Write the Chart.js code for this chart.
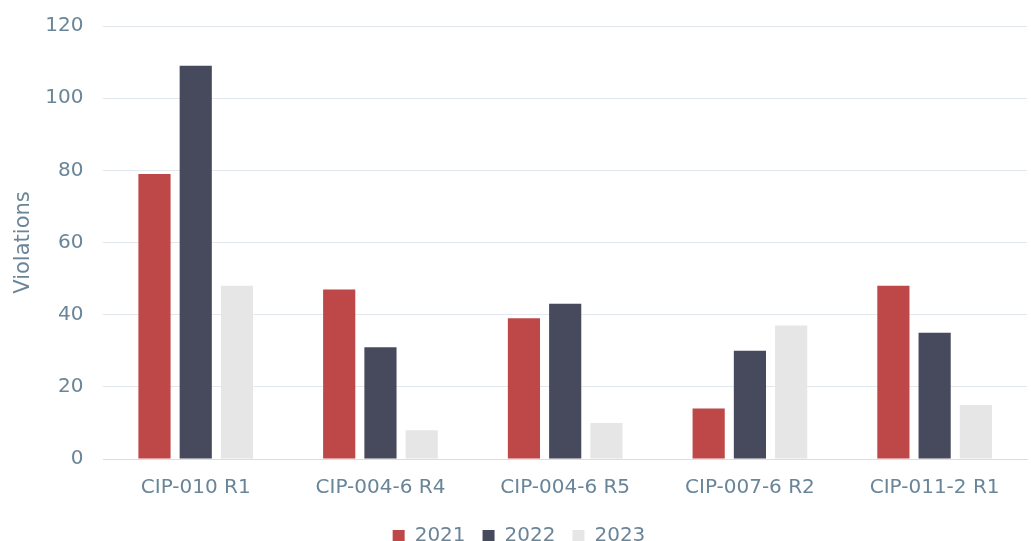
<!DOCTYPE html>
<html>
<head>
<meta charset="utf-8">
<script src="https://cdn.jsdelivr.net/npm/chart.js@4/dist/chart.umd.min.js"></script>
<style>
  html, body { margin: 0; padding: 0; background: #ffffff; overflow: hidden; }
  #wrap { position: absolute; left: 0; top: 0; width: 1031px; height: 556px; }
</style>
</head>
<body>
<div id="wrap"><canvas id="chart"></canvas></div>
<script>
// CIP requirement categories
const categories = ['CIP-010 R1', 'CIP-004-6 R4', 'CIP-004-6 R5', 'CIP-007-6 R2', 'CIP-011-2 R1'];

// Violations per year
const years = ['2021', '2022', '2023'];
const violations2021 = [79, 47, 39, 14, 48];
const violations2022 = [109, 31, 43, 30, 35];
const violations2023 = [48, 8, 10, 37, 15];

const yTicks = [0, 20, 40, 60, 80, 100, 120];

const textColor = '#6A8598';
const fontFamily = '"DejaVu Sans", sans-serif';

new Chart(document.getElementById('chart'), {
  type: 'bar',
  data: {
    labels: categories,
    datasets: [
      { label: years[0], data: violations2021, backgroundColor: '#BE4748' },
      { label: years[1], data: violations2022, backgroundColor: '#464A5C' },
      { label: years[2], data: violations2023, backgroundColor: '#E6E6E6' }
    ]
  },
  options: {
    responsive: true,
    maintainAspectRatio: false,
    animation: false,
    layout: { padding: { top: 26, right: 4, left: 11, bottom: 0 } },
    datasets: { bar: { categoryPercentage: 0.67, barPercentage: 0.78 } },
    plugins: {
      tooltip: { enabled: false },
      legend: {
        position: 'bottom',
        labels: {
          color: textColor,
          font: { family: fontFamily, size: 20 },
          boxWidth: 12,
          boxHeight: 12,
          padding: 17
        }
      }
    },
    scales: {
      x: {
        grid: { display: false },
        border: { display: true, color: '#D6DFE6', width: 1 },
        ticks: { color: textColor, font: { family: fontFamily, size: 20 }, padding: 9 }
      },
      y: {
        min: 0,
        max: 120,
        afterBuildTicks: (axis) => { axis.ticks = yTicks.map(v => ({ value: v })); },
        // top/bottom spacing comes from the layout padding alone
        afterFit: (axis) => { axis.paddingTop = 0; axis.paddingBottom = 0; },
        grid: { color: '#E3E8EC', lineWidth: 1, drawTicks: false },
        border: { display: false },
        ticks: { color: textColor, font: { family: fontFamily, size: 20 }, padding: 20 },
        title: {
          display: true,
          text: 'Violations',
          color: textColor,
          font: { family: fontFamily, size: 21 },
          padding: { top: 0, bottom: -11 }
        }
      }
    }
  }
});
</script>
</body>
</html>
